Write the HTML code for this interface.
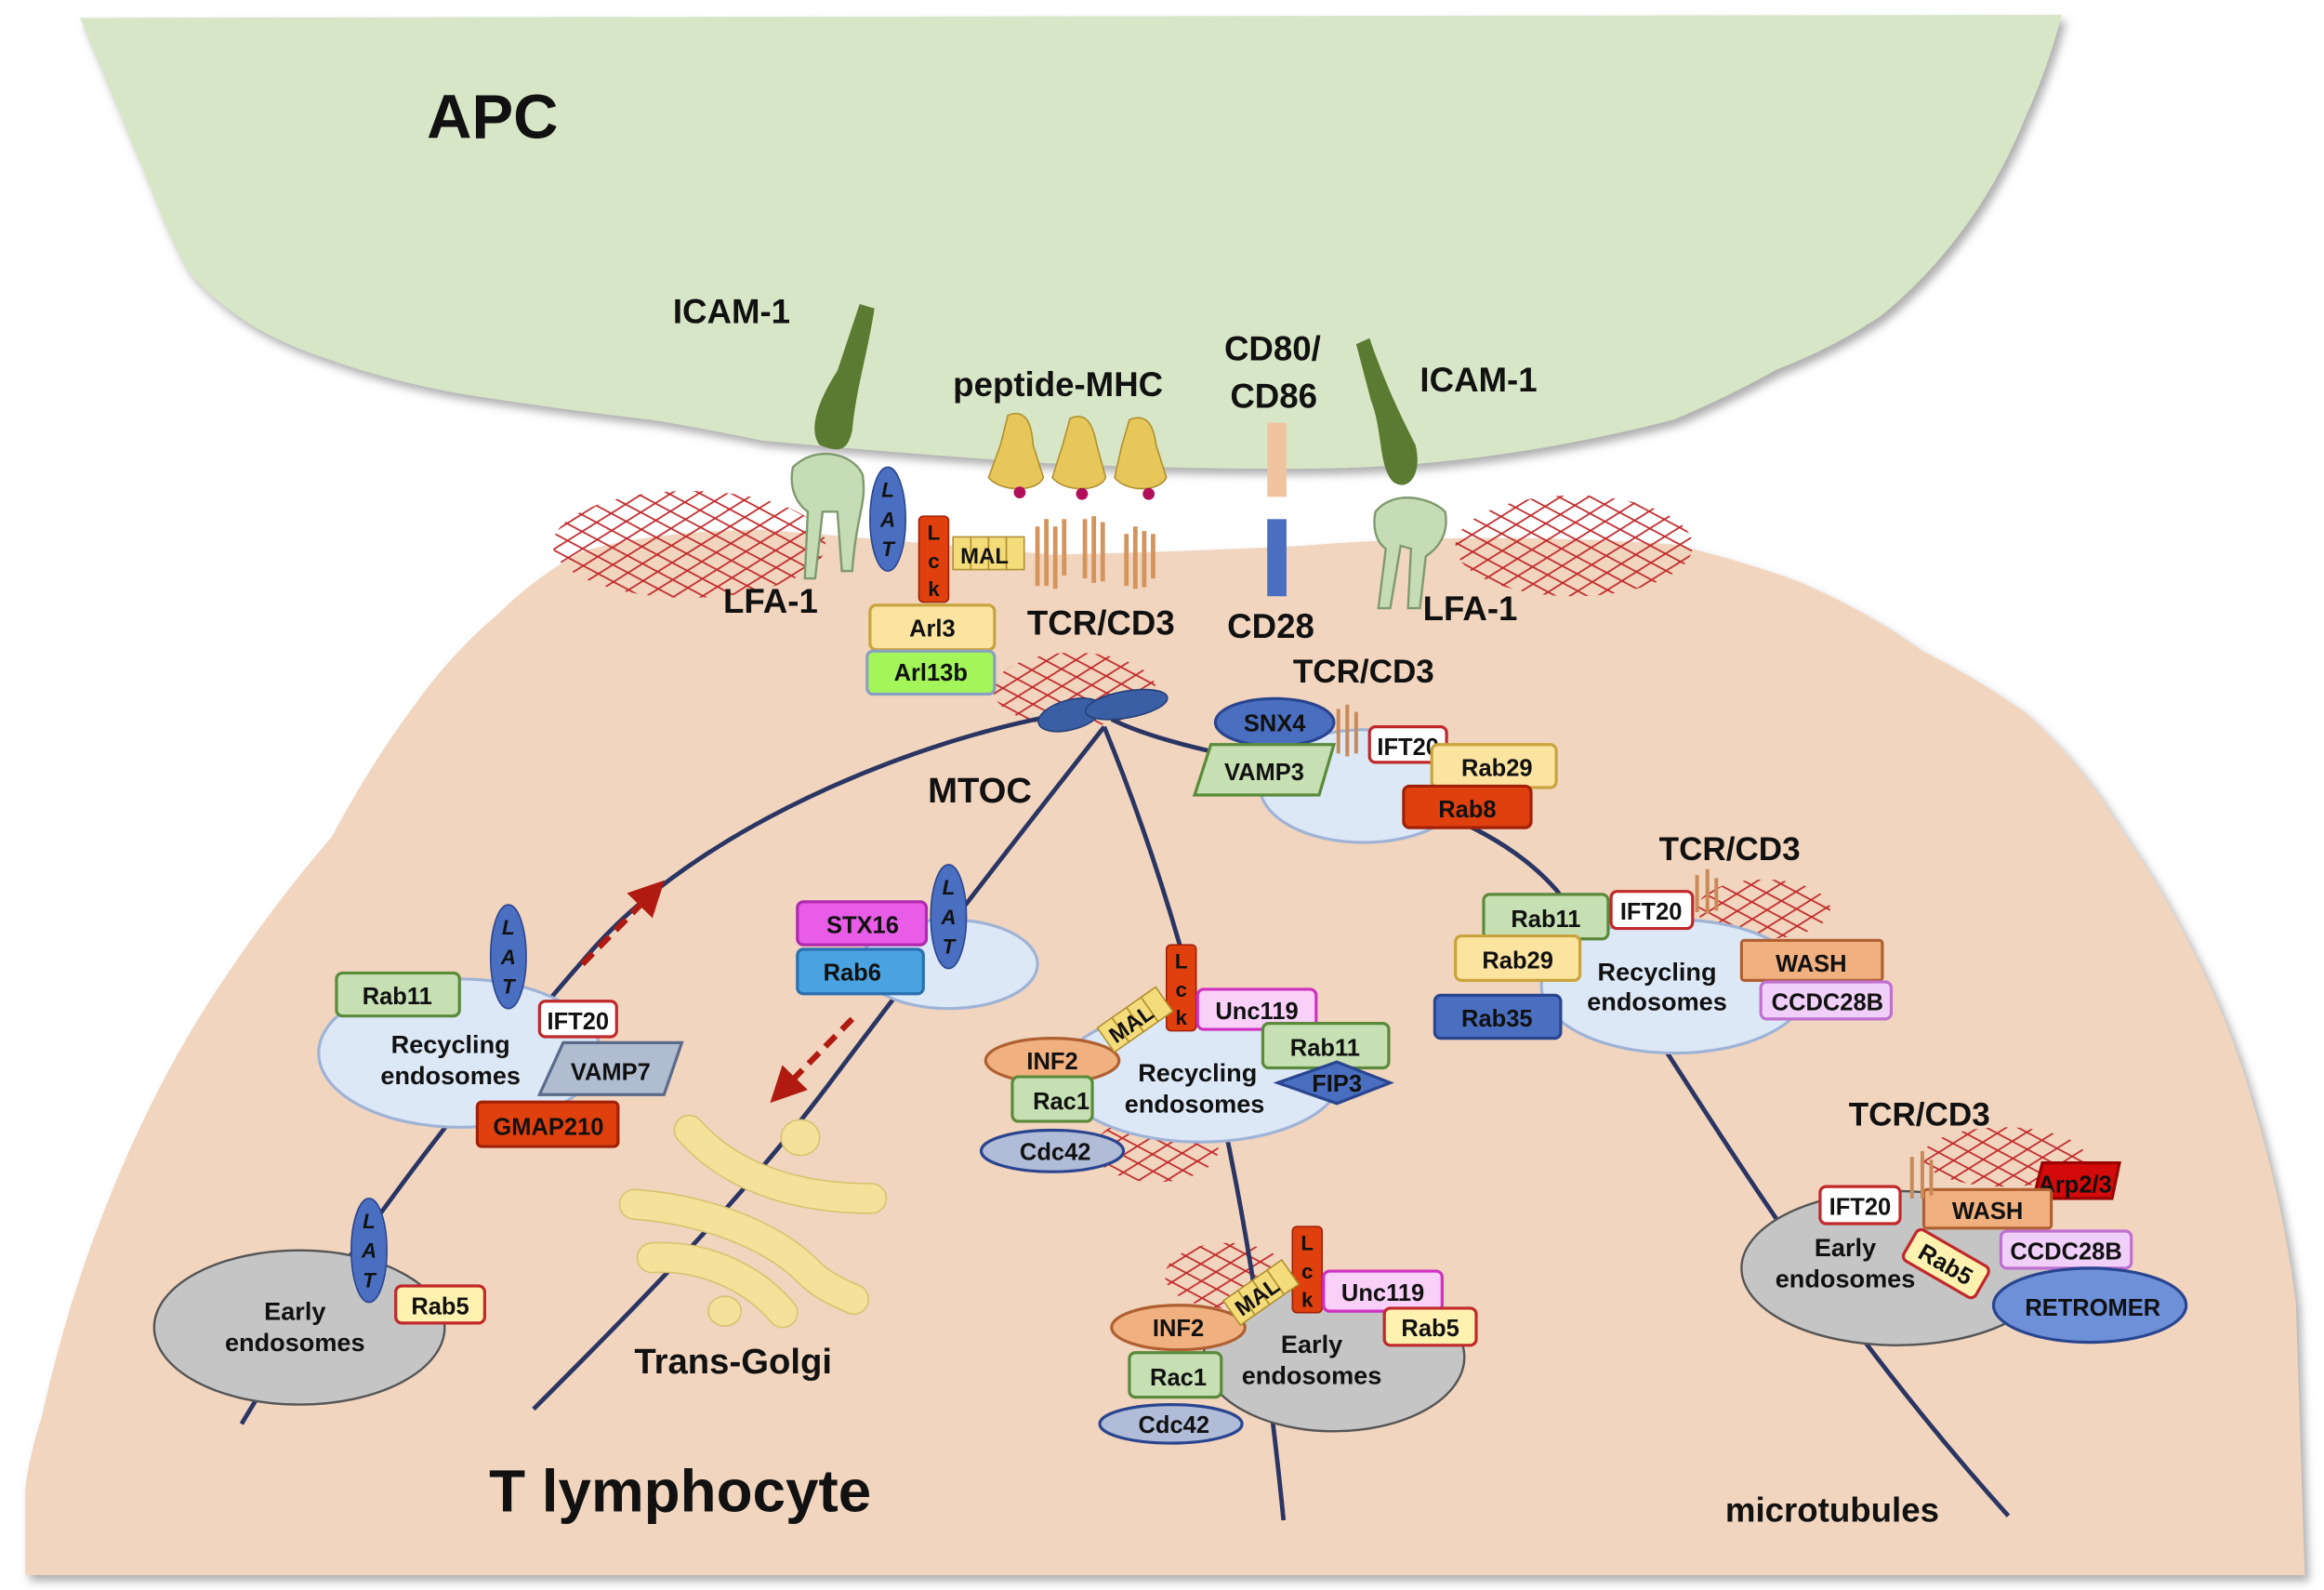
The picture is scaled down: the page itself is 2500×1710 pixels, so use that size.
<!DOCTYPE html>
<html><head><meta charset="utf-8"><style>
html,body{margin:0;padding:0;background:#fff}
svg{display:block}
text{font-family:"Liberation Sans",sans-serif;font-weight:bold;fill:#111}
</style></head><body>
<svg width="2500" height="1710" viewBox="0 0 1568 1072" preserveAspectRatio="none" xmlns="http://www.w3.org/2000/svg">
<defs>
<pattern id="m1" width="60" height="10" patternUnits="userSpaceOnUse" patternTransform="rotate(28)">
<line x1="0" y1="2" x2="60" y2="2" stroke="#c0282a" stroke-width="1.1"/>
</pattern>
<pattern id="m2" width="60" height="10" patternUnits="userSpaceOnUse" patternTransform="rotate(-32)">
<line x1="0" y1="2" x2="60" y2="2" stroke="#c0282a" stroke-width="1.1"/>
</pattern>
<filter id="sh" x="-5%" y="-5%" width="110%" height="110%"><feDropShadow dx="3" dy="4" stdDeviation="3" flood-color="#777" flood-opacity="0.6"/></filter>
<marker id="ah" markerWidth="6" markerHeight="6" refX="3" refY="3" orient="auto"><path d="M0,0 L6,3 L0,6 Z" fill="#b01a10"/></marker>
</defs>
<rect width="1568" height="1072" fill="#fff"/>
<!-- T cell -->
<path filter="url(#sh)" d="M17 1062 L17 1004 Q20 980 28 956 Q45 880 70 817 Q100 740 140 677 Q180 615 224 564 Q250 515 280 475 Q305 440 336 414 Q360 390 392 372 Q440 358 514 357 Q620 366 710 374 Q800 372 878 368 Q1000 358 1129 367 Q1175 378 1213 392 Q1260 412 1297 439 Q1335 458 1367 481 Q1405 515 1431 559 Q1458 598 1479 640 Q1505 690 1521 747 Q1540 810 1549 878 L1555 1062 Z" fill="#f1d5be"/>
<!-- APC -->
<path filter="url(#sh)" d="M54 12 L1391 10 Q1382 45 1367 78 Q1350 120 1325 154 Q1300 188 1269 213 Q1236 235 1199 249 Q1165 268 1129 283 Q1000 316 878 316 Q780 316 700 312 Q600 305 514 297 Q470 288 439 283 Q370 275 308 265 Q260 256 224 243 Q190 232 168 218 Q140 200 126 181 Q112 155 101 125 Z" fill="#d7e6c6"/>
<text x="288" y="93" font-size="42">APC</text>
<!-- meshes -->
<g>
<ellipse cx="465" cy="367" rx="92" ry="36" fill="url(#m1)"/><ellipse cx="465" cy="367" rx="92" ry="36" fill="url(#m2)"/>
<ellipse cx="1062" cy="368" rx="80" ry="34" fill="url(#m1)"/><ellipse cx="1062" cy="368" rx="80" ry="34" fill="url(#m2)"/>
<ellipse cx="725" cy="465" rx="55" ry="25" fill="url(#m1)"/><ellipse cx="725" cy="465" rx="55" ry="25" fill="url(#m2)"/>
<ellipse cx="1190" cy="613" rx="45" ry="20" fill="url(#m1)"/><ellipse cx="1190" cy="613" rx="45" ry="20" fill="url(#m2)"/>
<ellipse cx="1352" cy="780" rx="55" ry="20" fill="url(#m1)"/><ellipse cx="1352" cy="780" rx="55" ry="20" fill="url(#m2)"/>
<ellipse cx="780" cy="775" rx="42" ry="22" fill="url(#m1)"/><ellipse cx="780" cy="775" rx="42" ry="22" fill="url(#m2)"/>
<ellipse cx="828" cy="860" rx="42" ry="22" fill="url(#m1)"/><ellipse cx="828" cy="860" rx="42" ry="22" fill="url(#m2)"/>
</g>
<!-- microtubules -->
<g fill="none" stroke="#2a3563" stroke-width="3">
<path d="M740 478 C640 490 480 550 400 640 C330 720 240 830 163 960"/>
<path d="M745 490 C690 560 620 650 560 730 C500 810 420 890 360 950"/>
<path d="M745 490 C790 600 840 760 866 1025"/>
<path d="M750 485 C820 520 980 520 1050 600 C1120 690 1200 850 1355 1022"/>
</g>
<!-- endosomes -->
<g stroke="#9fb3d6" stroke-width="2" fill="#dde8f6">
<ellipse cx="920" cy="530" rx="70" ry="38"/>
<ellipse cx="310" cy="710" rx="95" ry="50"/>
<ellipse cx="640" cy="650" rx="60" ry="30"/>
<ellipse cx="810" cy="725" rx="95" ry="45"/>
<ellipse cx="1130" cy="665" rx="90" ry="45"/>
</g>
<g stroke="#555" stroke-width="1.5" fill="#c5c5c5">
<ellipse cx="202" cy="895" rx="98" ry="52"/>
<ellipse cx="900" cy="915" rx="88" ry="50"/>
<ellipse cx="1280" cy="855" rx="105" ry="52"/>
</g>
<!-- Trans-Golgi -->
<g fill="none" stroke-linecap="round">
<g stroke="#d9c270" stroke-width="21">
<path d="M465 762 C490 790 530 808 588 808"/>
<path d="M428 812 C470 815 520 830 548 860 C560 870 572 874 576 876"/>
<path d="M440 848 C470 846 505 858 528 885"/>
</g>
<g stroke="#f5e29a" stroke-width="19">
<path d="M465 762 C490 790 530 808 588 808"/>
<path d="M428 812 C470 815 520 830 548 860 C560 870 572 874 576 876"/>
<path d="M440 848 C470 846 505 858 528 885"/>
</g>
</g>
<g fill="#f5e29a" stroke="#d9c270"><ellipse cx="540" cy="767" rx="13" ry="12"/><ellipse cx="489" cy="884" rx="11" ry="10"/></g>
<text x="428" y="926" font-size="24">Trans-Golgi</text>
<!-- MTOC -->
<g fill="#3b5fa5" stroke="#24407a"><ellipse cx="722" cy="482" rx="22" ry="10" transform="rotate(-15 722 482)"/><ellipse cx="760" cy="475" rx="28" ry="9" transform="rotate(-10 760 475)"/></g>
<text x="626" y="541" font-size="24">MTOC</text>
<line x1="393" y1="650" x2="440" y2="602" stroke="#b01a10" stroke-width="4" stroke-dasharray="10 6" marker-end="url(#ah)"/>
<line x1="575" y1="687" x2="528" y2="735" stroke="#b01a10" stroke-width="4" stroke-dasharray="10 6" marker-end="url(#ah)"/>
<!-- ICAM / LFA -->
<g fill="#5b7a32">
<path d="M580 205 L590 208 C585 240 578 260 575 290 C572 305 565 305 553 300 C545 290 552 270 565 250 Z"/>
<path d="M915 232 L924 228 C935 260 945 280 955 300 C960 320 950 332 940 325 C930 315 933 290 925 270 Z"/>
</g>
<g fill="#c6dcb6" stroke="#7f9a6e" stroke-width="1.5">
<path d="M535 315 C550 300 575 305 582 320 C585 340 578 345 575 385 L568 385 L565 345 L555 345 L550 390 L543 390 L545 345 C538 340 532 330 535 315 Z"/>
<path d="M928 345 C940 330 965 335 975 345 C978 360 970 370 962 375 L958 410 L950 410 L952 370 L945 368 L938 410 L930 410 L935 370 C928 365 926 355 928 345 Z"/>
</g>
<text x="454" y="218" font-size="23">ICAM-1</text>
<text x="958" y="264" font-size="23">ICAM-1</text>
<text x="488" y="413" font-size="23">LFA-1</text>
<text x="960" y="418" font-size="23">LFA-1</text>
<g fill="#e7c65a" stroke="#b09030" stroke-width="1">
<path d="M680 280 C690 276 696 282 697 300 L704 322 C700 332 675 332 667 322 L675 300 Z"/>
<path d="M722 282 C732 278 737 284 740 300 L746 322 C742 332 718 332 710 322 L717 300 Z"/>
<path d="M762 283 C772 279 778 284 780 300 L787 322 C782 332 760 332 752 322 L757 300 Z"/>
</g>
<g fill="#b0105a"><circle cx="688" cy="332" r="4"/><circle cx="730" cy="333" r="4"/><circle cx="775" cy="333" r="4"/></g>
<text x="643" y="267" font-size="23">peptide-MHC</text>
<text x="826" y="243" font-size="23">CD80/</text>
<text x="830" y="275" font-size="23">CD86</text>
<rect x="855" y="285" width="13" height="50" fill="#f1c4a0"/>
<rect x="855" y="350" width="13" height="52" fill="#4a6fc0"/>
<text x="828" y="430" font-size="23">CD28</text>
<g stroke="#d4945c" stroke-width="3">
<path d="M700 355 v40 M706 350 v45 M712 355 v42 M718 350 v38 M732 350 v40 M738 348 v45 M744 352 v40 M760 360 v35 M766 355 v42 M772 358 v38 M778 360 v30"/>
</g>
<text x="693" y="428" font-size="23">TCR/CD3</text>
<g fill="#f5dc7a" stroke="#b09030"><rect x="643" y="362" width="12" height="22"/><rect x="655" y="362" width="12" height="22"/><rect x="667" y="362" width="12" height="22"/><rect x="679" y="362" width="12" height="22"/></g>
<text x="648" y="380" font-size="15">MAL</text>
<g fill="#4a6fc0" stroke="#2a4590">
<ellipse cx="599" cy="350" rx="12" ry="35"/>
<ellipse cx="343" cy="645" rx="12" ry="35"/>
<ellipse cx="640" cy="618" rx="12" ry="35"/>
<ellipse cx="249" cy="843" rx="12" ry="35"/>
</g>
<g font-size="14" font-style="italic" text-anchor="middle">
<text x="599" y="335">L</text><text x="599" y="355">A</text><text x="599" y="375">T</text>
<text x="343" y="630">L</text><text x="343" y="650">A</text><text x="343" y="670">T</text>
<text x="640" y="603">L</text><text x="640" y="623">A</text><text x="640" y="643">T</text>
<text x="249" y="828">L</text><text x="249" y="848">A</text><text x="249" y="868">T</text>
</g>
<g fill="#e0400e" stroke="#a02008">
<rect x="620" y="348" width="20" height="58" rx="3"/>
<rect x="787" y="637" width="20" height="58" rx="3"/>
<rect x="872" y="827" width="20" height="58" rx="3"/>
</g>
<g font-size="14" text-anchor="middle">
<text x="630" y="364">L</text><text x="630" y="383">c</text><text x="630" y="402">k</text>
<text x="797" y="653">L</text><text x="797" y="672">c</text><text x="797" y="691">k</text>
<text x="882" y="843">L</text><text x="882" y="862">c</text><text x="882" y="881">k</text>
</g>
<g stroke-width="2" font-size="16" text-anchor="middle">
<rect x="587" y="408" width="84" height="30" rx="4" fill="#fbe3a0" stroke="#c9a43c"/><text x="629" y="429">Arl3</text>
<rect x="585" y="439" width="86" height="29" rx="4" fill="#a3f55a" stroke="#8aa0c0"/><text x="628" y="459">Arl13b</text>
<ellipse cx="860" cy="487" rx="40" ry="16" fill="#4a6fc0" stroke="#2a4590"/><text x="860" y="493">SNX4</text>
<path d="M817 502 L900 502 L890 536 L806 536 Z" fill="#c6e0b4" stroke="#5a8a3a"/><text x="853" y="526">VAMP3</text>
<rect x="924" y="490" width="52" height="24" rx="4" fill="#fff" stroke="#c0282a"/><text x="950" y="509">IFT20</text>
<rect x="966" y="502" width="84" height="29" rx="4" fill="#fbe3a0" stroke="#c9a43c"/><text x="1010" y="523">Rab29</text>
<rect x="947" y="530" width="86" height="28" rx="4" fill="#e0400e" stroke="#a02008"/><text x="990" y="551">Rab8</text>
<text x="920" y="460" font-size="22">TCR/CD3</text>
<rect x="227" y="656" width="83" height="29" rx="4" fill="#c6e0b4" stroke="#5a8a3a"/><text x="268" y="677">Rab11</text>
<rect x="364" y="675" width="52" height="24" rx="4" fill="#fff" stroke="#c0282a"/><text x="390" y="694">IFT20</text>
<path d="M380 703 L460 703 L448 738 L364 738 Z" fill="#b0bcd0" stroke="#5a6a8a"/><text x="412" y="728">VAMP7</text>
<rect x="322" y="743" width="95" height="30" rx="3" fill="#e0400e" stroke="#a02008"/><text x="370" y="765">GMAP210</text>
<rect x="267" y="867" width="60" height="25" rx="4" fill="#fff2b0" stroke="#c0282a"/><text x="297" y="886">Rab5</text>
<rect x="538" y="608" width="87" height="29" rx="4" fill="#e85ce8" stroke="#b02ab0"/><text x="582" y="629">STX16</text>
<rect x="538" y="640" width="85" height="30" rx="4" fill="#4aa3e0" stroke="#2a70b0"/><text x="575" y="661">Rab6</text>
<rect x="808" y="667" width="80" height="27" rx="4" fill="#f8d0f8" stroke="#d030c0"/><text x="848" y="687">Unc119</text>
<rect x="852" y="690" width="85" height="30" rx="4" fill="#c6e0b4" stroke="#5a8a3a"/><text x="894" y="712">Rab11</text>
<path d="M862 730 L902 716 L938 730 L902 744 Z" fill="#4a6fc0" stroke="#2a4590"/><text x="902" y="736">FIP3</text>
<ellipse cx="710" cy="715" rx="45" ry="15" fill="#f0b080" stroke="#b06030"/><text x="710" y="721">INF2</text>
<rect x="683" y="726" width="54" height="30" rx="4" fill="#c6e0b4" stroke="#5a8a3a"/><text x="716" y="748">Rac1</text>
<ellipse cx="710" cy="776" rx="48" ry="14" fill="#b0bcd8" stroke="#2a4590"/><text x="712" y="782">Cdc42</text>
<rect x="893" y="857" width="80" height="27" rx="4" fill="#f8d0f8" stroke="#d030c0"/><text x="933" y="877">Unc119</text>
<rect x="934" y="882" width="62" height="25" rx="4" fill="#fff2b0" stroke="#c0282a"/><text x="965" y="901">Rab5</text>
<ellipse cx="795" cy="895" rx="45" ry="15" fill="#f0b080" stroke="#b06030"/><text x="795" y="901">INF2</text>
<rect x="762" y="912" width="62" height="30" rx="4" fill="#c6e0b4" stroke="#5a8a3a"/><text x="795" y="934">Rac1</text>
<ellipse cx="790" cy="960" rx="48" ry="13" fill="#b0bcd8" stroke="#2a4590"/><text x="792" y="966">Cdc42</text>
<rect x="1001" y="603" width="84" height="30" rx="4" fill="#c6e0b4" stroke="#5a8a3a"/><text x="1043" y="625">Rab11</text>
<rect x="1087" y="601" width="55" height="25" rx="4" fill="#fff" stroke="#c0282a"/><text x="1114" y="620">IFT20</text>
<rect x="982" y="631" width="84" height="30" rx="4" fill="#fbe3a0" stroke="#c9a43c"/><text x="1024" y="653">Rab29</text>
<rect x="1175" y="634" width="95" height="27" rx="2" fill="#f0b080" stroke="#b06030"/><text x="1222" y="655">WASH</text>
<rect x="1188" y="662" width="88" height="25" rx="4" fill="#f0d0f8" stroke="#c070d0"/><text x="1233" y="681">CCDC28B</text>
<rect x="968" y="671" width="85" height="29" rx="4" fill="#4a6fc0" stroke="#2a4590"/><text x="1010" y="692">Rab35</text>
<text x="1167" y="580" font-size="22">TCR/CD3</text>
<text x="1295" y="759" font-size="22">TCR/CD3</text>
<path d="M1378 784 L1430 784 L1425 808 L1372 808 Z" fill="#d40a0a" stroke="#900"/><text x="1400" y="804">Arp2/3</text>
<rect x="1298" y="802" width="86" height="26" rx="2" fill="#f0b080" stroke="#b06030"/><text x="1341" y="822">WASH</text>
<rect x="1350" y="830" width="88" height="25" rx="4" fill="#f0d0f8" stroke="#c070d0"/><text x="1394" y="849">CCDC28B</text>
<rect x="1228" y="800" width="54" height="25" rx="4" fill="#fff" stroke="#c0282a"/><text x="1255" y="819">IFT20</text>
<g transform="rotate(30 1313 852)"><rect x="1285" y="840" width="56" height="24" rx="4" fill="#fff2b0" stroke="#c0282a"/><text x="1313" y="858">Rab5</text></g>
<ellipse cx="1410" cy="880" rx="65" ry="25" fill="#6d90d8" stroke="#2a4590"/><text x="1412" y="887">RETROMER</text>
</g>
<g transform="rotate(-35 765 688)"><g fill="#f5dc7a" stroke="#b09030"><rect x="742" y="678" width="12" height="20"/><rect x="754" y="678" width="12" height="20"/><rect x="766" y="678" width="12" height="20"/><rect x="778" y="678" width="12" height="20"/></g><text x="746" y="694" font-size="15">MAL</text></g>
<g transform="rotate(-35 850 872)"><g fill="#f5dc7a" stroke="#b09030"><rect x="827" y="862" width="12" height="20"/><rect x="839" y="862" width="12" height="20"/><rect x="851" y="862" width="12" height="20"/><rect x="863" y="862" width="12" height="20"/></g><text x="831" y="878" font-size="15">MAL</text></g>
<g stroke="#c98a5a" stroke-width="2.5"><path d="M903 478 v30 M909 475 v35 M915 480 v28 M1145 590 v25 M1152 586 v30 M1158 592 v22 M1290 780 v28 M1297 776 v32 M1303 782 v24"/></g>
<g font-size="17" text-anchor="middle">
<text x="304" y="710">Recycling</text><text x="304" y="731">endosomes</text>
<text x="199" y="890">Early</text><text x="199" y="911">endosomes</text>
<text x="808" y="729">Recycling</text><text x="806" y="750">endosomes</text>
<text x="1118" y="661">Recycling</text><text x="1118" y="681">endosomes</text>
<text x="885" y="912">Early</text><text x="885" y="933">endosomes</text>
<text x="1245" y="847">Early</text><text x="1245" y="868">endosomes</text>
</g>
<text x="330" y="1019" font-size="40">T lymphocyte</text>
<text x="1164" y="1026" font-size="23">microtubules</text>
</svg>
</body></html>
